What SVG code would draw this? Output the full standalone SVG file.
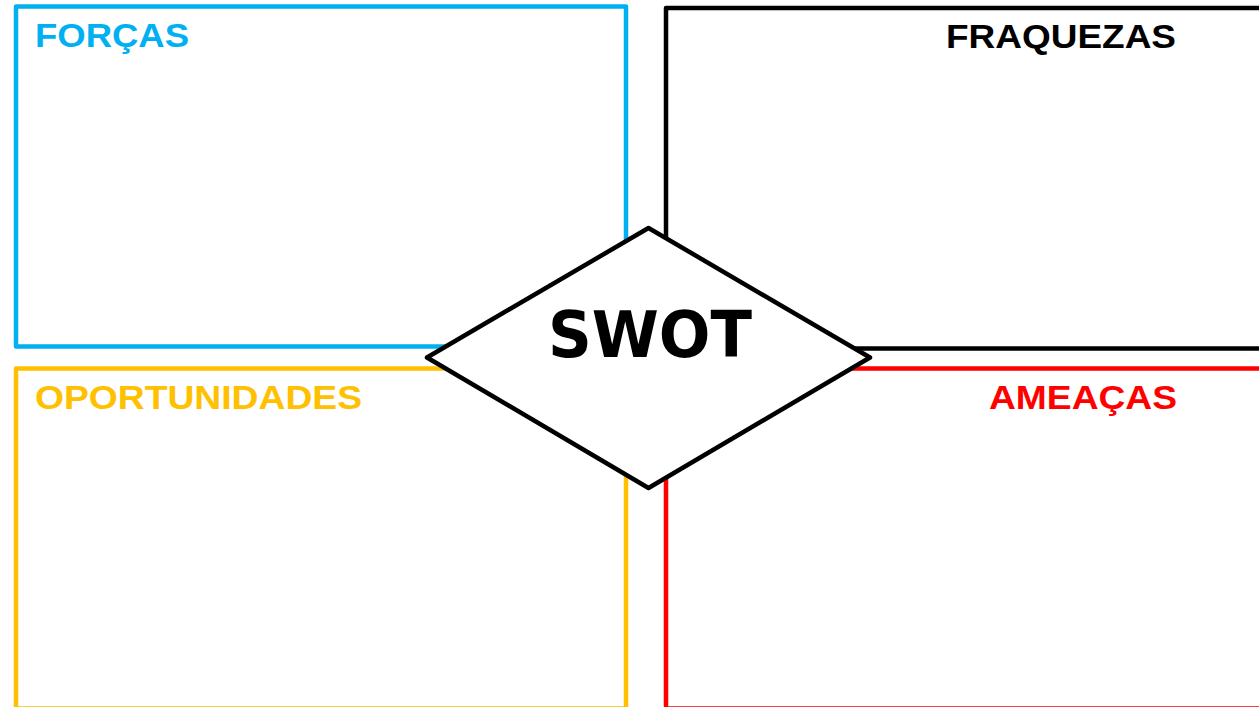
<svg xmlns="http://www.w3.org/2000/svg" width="1259" height="707" viewBox="0 0 1259 707">
<style>
.box{fill:none;stroke-width:4.5;stroke-linejoin:round}
.lbl{font-family:"Liberation Sans",Arial,sans-serif;font-weight:bold;font-size:33px}
</style>
<rect width="1259" height="707" fill="#ffffff"/>
<g id="forcas">
<rect class="box" x="16" y="6.5" width="610" height="340" stroke="#00B0F0"/>
<text class="lbl" x="35" y="47" fill="#00B0F0" textLength="154" lengthAdjust="spacingAndGlyphs">FORÇAS</text>
</g>
<g id="fraquezas">
<rect class="box" x="666" y="8" width="620" height="340.5" stroke="#000000"/>
<text class="lbl" x="946" y="48" fill="#000000" textLength="230" lengthAdjust="spacingAndGlyphs">FRAQUEZAS</text>
</g>
<g id="oportunidades">
<rect class="box" x="16" y="368.5" width="610" height="340" stroke="#FFC000"/>
<text class="lbl" x="35" y="409" fill="#FFC000" textLength="327" lengthAdjust="spacingAndGlyphs">OPORTUNIDADES</text>
</g>
<g id="ameacas">
<rect class="box" x="666" y="368.5" width="620" height="340" stroke="#FF0000"/>
<text class="lbl" x="989" y="409" fill="#FF0000" textLength="188" lengthAdjust="spacingAndGlyphs">AMEAÇAS</text>
</g>
<g id="connectors"></g>
<g id="swot">
<polygon points="648.5,228 870,357.5 648.5,488 427,357.5" fill="#ffffff" stroke="#000000" stroke-width="4.5" stroke-linejoin="round"/>
<text x="650" y="357" text-anchor="middle" font-family="'DejaVu Sans',sans-serif" font-weight="bold" font-size="64" fill="#000000" textLength="204" lengthAdjust="spacingAndGlyphs">SWOT</text>
</g>
</svg>
